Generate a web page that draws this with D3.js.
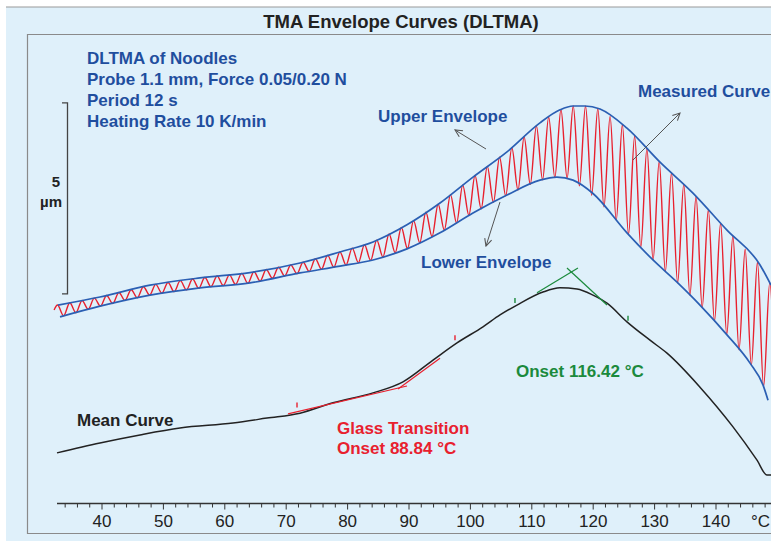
<!DOCTYPE html>
<html><head><meta charset="utf-8">
<script src="https://cdn.jsdelivr.net/npm/d3@7"></script>
<style>body{margin:0;background:#fff}svg{display:block;font-family:"Liberation Sans",Arial,sans-serif}</style>
</head><body><svg id="c" width="771" height="541"></svg>
<script>
// ---------- data (°C, µm) ----------
const upperT = [32.83, 39.67, 47.82, 55.96, 64.10, 72.25, 78.76, 84.14, 89.67, 95.05, 100.42, 105.96, 111.33, 114.59, 116.71, 118.66, 121.11, 125.50, 130.88, 136.25, 141.79, 147.17, 148.96];
const upperV = [4.58, 4.79, 5.10, 5.29, 5.43, 5.68, 5.97, 6.23, 6.68, 7.25, 7.93, 8.59, 9.35, 9.69, 9.79, 9.79, 9.71, 9.21, 8.32, 7.51, 6.54, 5.63, 5.10];
const lowerT = [33.16, 39.67, 47.82, 55.96, 64.10, 72.25, 78.76, 84.14, 89.67, 95.05, 100.42, 105.96, 111.33, 114.10, 116.71, 119.97, 125.50, 129.74, 133.65, 137.39, 141.79, 145.54, 147.65, 148.47];
const lowerV = [4.27, 4.55, 4.84, 5.03, 5.16, 5.42, 5.60, 5.76, 6.05, 6.47, 6.99, 7.46, 7.85, 7.93, 7.85, 7.50, 6.47, 5.76, 5.18, 4.58, 3.80, 3.06, 2.49, 2.09];
const meanT = [32.67, 39.67, 46.19, 52.70, 61.33, 66.87, 72.25, 77.62, 84.14, 89.02, 93.91, 97.82, 102.05, 104.82, 107.59, 111.82, 114.59, 117.36, 119.97, 122.25, 125.50, 129.25, 132.02, 137.39, 142.77, 146.68, 148.31, 148.96];
const meanV = [0.71, 0.97, 1.18, 1.36, 1.49, 1.62, 1.75, 2.02, 2.28, 2.57, 3.14, 3.59, 4.01, 4.32, 4.58, 4.92, 5.03, 5.00, 4.84, 4.63, 4.14, 3.66, 3.32, 2.43, 1.39, 0.52, 0.13, 0.13];
// measured (modulated) curve: maxima and minima of each 12 s period
const peakT = [32.75, 34.75, 36.75, 38.75, 40.75, 42.75, 44.75, 46.75, 48.75, 50.75, 52.75, 54.75, 56.75, 58.75, 60.75, 62.75, 64.75, 66.75, 68.75, 70.75, 72.75, 74.75, 76.75, 78.75, 80.75, 82.75, 84.75, 86.75, 88.75, 90.75, 92.75, 94.75, 96.75, 98.75, 100.75, 102.75, 104.75, 106.75, 108.75, 110.75, 112.75, 114.75, 116.75, 118.75, 120.75, 122.75, 124.75, 126.75, 128.75, 130.75, 132.75, 134.75, 136.75, 138.75, 140.75, 142.75, 144.75, 146.75, 148.75];
const peakV = [4.58, 4.64, 4.70, 4.76, 4.83, 4.91, 4.98, 5.06, 5.12, 5.17, 5.22, 5.26, 5.30, 5.34, 5.37, 5.41, 5.45, 5.51, 5.57, 5.63, 5.70, 5.79, 5.88, 5.97, 6.07, 6.16, 6.28, 6.44, 6.61, 6.79, 7.01, 7.22, 7.47, 7.72, 7.97, 8.21, 8.45, 8.70, 8.98, 9.27, 9.50, 9.70, 9.79, 9.79, 9.72, 9.52, 9.30, 9.00, 8.67, 8.34, 8.04, 7.74, 7.42, 7.07, 6.72, 6.38, 6.04, 5.70, 5.16];
const valleyT = [33.75, 35.75, 37.75, 39.75, 41.75, 43.75, 45.75, 47.75, 49.75, 51.75, 53.75, 55.75, 57.75, 59.75, 61.75, 63.75, 65.75, 67.75, 69.75, 71.75, 73.75, 75.75, 77.75, 79.75, 81.75, 83.75, 85.75, 87.75, 89.75, 91.75, 93.75, 95.75, 97.75, 99.75, 101.75, 103.75, 105.75, 107.75, 109.75, 111.75, 113.75, 115.75, 117.75, 119.75, 121.75, 123.75, 125.75, 127.75, 129.75, 131.75, 133.75, 135.75, 137.75, 139.75, 141.75, 143.75, 145.75, 147.75, 149.75];
const valleyV = [4.30, 4.38, 4.47, 4.55, 4.62, 4.70, 4.77, 4.84, 4.89, 4.93, 4.98, 5.02, 5.06, 5.09, 5.12, 5.15, 5.21, 5.28, 5.34, 5.40, 5.46, 5.52, 5.57, 5.63, 5.69, 5.75, 5.84, 5.95, 6.06, 6.21, 6.37, 6.54, 6.73, 6.93, 7.10, 7.27, 7.44, 7.59, 7.74, 7.86, 7.92, 7.90, 7.70, 7.45, 7.15, 6.80, 6.43, 6.09, 5.76, 5.46, 5.16, 4.84, 4.52, 4.16, 3.81, 3.41, 3.00, 2.44, 1.50];
const measuredStart = [32.2, 4.45];
// evaluation lines
const glassTan1T = [70.29, 89.67], glassTan1V = [1.73, 2.46];
const glassTan2T = [88.21, 95.05], glassTan2V = [2.38, 3.19];
const glassLimitsT = [71.76, 97.49], glassLimitsV = [1.87, 3.63];
const onsetTan1T = [110.85, 117.52], onsetTan1V = [4.90, 5.55];
const onsetTan2T = [115.73, 122.25], onsetTan2V = [5.55, 4.58];
const onsetLimitsT = [107.26, 125.67], onsetLimitsV = [4.61, 4.14];
// axis
const majorTicks = [40, 50, 60, 70, 80, 90, 100, 110, 120, 130, 140];
const tickLabels = ["40", "50", "60", "70", "80", "90", "100", "110", "120", "130", "140"];
const minorTicks = [34, 36, 38, 42, 44, 46, 48, 52, 54, 56, 58, 62, 64, 66, 68, 72, 74, 76, 78, 82, 84, 86, 88, 92, 94, 96, 98, 102, 104, 106, 108, 112, 114, 116, 118, 122, 124, 126, 128, 132, 134, 136, 138, 142, 144, 146, 148];
const unitLabel = "°C";
const scaleBarBase = 4.87, scaleBarLen = 5;
const infoLines = ["DLTMA of Noodles", "Probe 1.1 mm, Force 0.05/0.20 N", "Period 12 s", "Heating Rate 10 K/min"];

// ---------- drawing ----------
const svg = d3.select("#c");
const W = 771, H = 541;
const x = d3.scaleLinear().domain([40, 140]).range([102, 716]);
const y = d3.scaleLinear().domain([0, 5]).range([480, 289]);
const BLUE = "#1f4e9e", RED = "#e8202e", GREEN = "#1b8a3c", DARK = "#222";

svg.append("rect").attr("x", 6).attr("y", 7).attr("width", W).attr("height", H).attr("fill", "#dff0fa");
svg.append("line").attr("x1", 6).attr("x2", W).attr("y1", 7).attr("y2", 7).attr("stroke", "#9a9a9a").attr("stroke-width", 1.2);
svg.append("path").attr("d", `M${W},34.5H27.5V533.5H${W}`).attr("fill", "none").attr("stroke", "#8a8a8a").attr("stroke-width", 1.2);

svg.append("text").attr("x", 401).attr("y", 28).attr("text-anchor", "middle")
  .attr("font-size", 18.5).attr("font-weight", "bold").attr("fill", DARK).text("TMA Envelope Curves (DLTMA)");

const zip = (a, b) => a.map((d, i) => [d, b[i]]);
const line = d3.line().x(d => x(d[0])).y(d => y(d[1])).curve(d3.curveMonotoneX);
const straight = d3.line().x(d => x(d[0])).y(d => y(d[1]));

// measured curve
const measured = [measuredStart];
peakT.forEach((t, i) => { measured.push([t, peakV[i]]); measured.push([valleyT[i], valleyV[i]]); });
svg.append("path").attr("d", line(measured)).attr("fill", "none").attr("stroke", RED).attr("stroke-width", 1.4);
// envelopes
svg.append("path").attr("d", line(zip(upperT, upperV))).attr("fill", "none").attr("stroke", "#2b5fb3").attr("stroke-width", 1.7);
svg.append("path").attr("d", line(zip(lowerT, lowerV))).attr("fill", "none").attr("stroke", "#2b5fb3").attr("stroke-width", 1.7);
// mean curve
svg.append("path").attr("d", line(zip(meanT, meanV))).attr("fill", "none").attr("stroke", DARK).attr("stroke-width", 1.5);

// evaluation tangents
[[glassTan1T, glassTan1V, RED], [glassTan2T, glassTan2V, RED], [onsetTan1T, onsetTan1V, GREEN], [onsetTan2T, onsetTan2V, GREEN]]
  .forEach(([t, v, c]) => svg.append("path").attr("d", straight(zip(t, v))).attr("fill", "none").attr("stroke", c).attr("stroke-width", 1.2));
[[glassLimitsT, glassLimitsV, RED], [onsetLimitsT, onsetLimitsV, GREEN]].forEach(([t, v, c]) => {
  t.forEach((tt, i) => svg.append("line").attr("x1", x(tt)).attr("x2", x(tt)).attr("y1", y(v[i]) - 1).attr("y2", y(v[i]) - 6)
    .attr("stroke", c).attr("stroke-width", 1.4));
});

// scale bar
const sbx = 67.5;
svg.append("path").attr("d", `M62,${y(scaleBarBase + scaleBarLen)}H${sbx}V${y(scaleBarBase)}H62`)
  .attr("fill", "none").attr("stroke", "#444").attr("stroke-width", 1.3);
svg.append("text").attr("x", 60).attr("y", 187).attr("text-anchor", "end").attr("font-size", 15).attr("font-weight", "bold").attr("fill", DARK).text(String(scaleBarLen));
svg.append("text").attr("x", 62).attr("y", 207).attr("text-anchor", "end").attr("font-size", 15).attr("font-weight", "bold").attr("fill", DARK).text("µm");

// x axis
const axY = 503.5;
svg.append("line").attr("x1", 57).attr("x2", W).attr("y1", axY).attr("y2", axY).attr("stroke", "#333").attr("stroke-width", 1.3);
svg.selectAll(".mn").data(minorTicks).join("line").attr("x1", d => x(d)).attr("x2", d => x(d)).attr("y1", axY).attr("y2", axY + 4).attr("stroke", "#333");
svg.selectAll(".mj").data(majorTicks).join("line").attr("x1", d => x(d)).attr("x2", d => x(d)).attr("y1", axY).attr("y2", axY + 6).attr("stroke", "#333");
svg.selectAll(".tl").data(majorTicks).join("text").attr("x", d => x(d)).attr("y", 527).attr("text-anchor", "middle")
  .attr("font-size", 17).attr("fill", DARK).text((d, i) => tickLabels[i]);
svg.append("text").attr("x", 770).attr("y", 527).attr("text-anchor", "end").attr("font-size", 17).attr("fill", DARK).text(unitLabel);

// annotations
const ann = (tx, ty, str, col) => svg.append("text").attr("x", tx).attr("y", ty).attr("font-size", 17).attr("font-weight", "bold").attr("fill", col).text(str);
infoLines.forEach((s, i) => ann(87, 64 + 21 * i, s, BLUE));
ann(378, 122, "Upper Envelope", BLUE);
ann(638, 97, "Measured Curve", BLUE);
ann(421, 268, "Lower Envelope", BLUE);
ann(77, 426, "Mean Curve", DARK);
ann(337, 434, "Glass Transition", RED);
ann(337, 454, "Onset 88.84 °C", RED);
ann(516, 377, "Onset 116.42 °C", GREEN);

// arrows
const defs = svg.append("defs");
defs.append("marker").attr("id", "ah").attr("viewBox", "0 0 10 10").attr("refX", 9).attr("refY", 5)
  .attr("markerWidth", 9).attr("markerHeight", 9).attr("markerUnits", "userSpaceOnUse").attr("orient", "auto")
  .append("path").attr("d", "M1,1L9,5L1,9").attr("fill", "none").attr("stroke", "#555").attr("stroke-width", 1.2);
[[486, 149, 455, 130], [500, 202, 486, 246], [633, 160, 680, 113]].forEach(a =>
  svg.append("line").attr("x1", a[0]).attr("y1", a[1]).attr("x2", a[2]).attr("y2", a[3])
    .attr("stroke", "#555").attr("stroke-width", 1).attr("marker-end", "url(#ah)"));
</script></body></html>
